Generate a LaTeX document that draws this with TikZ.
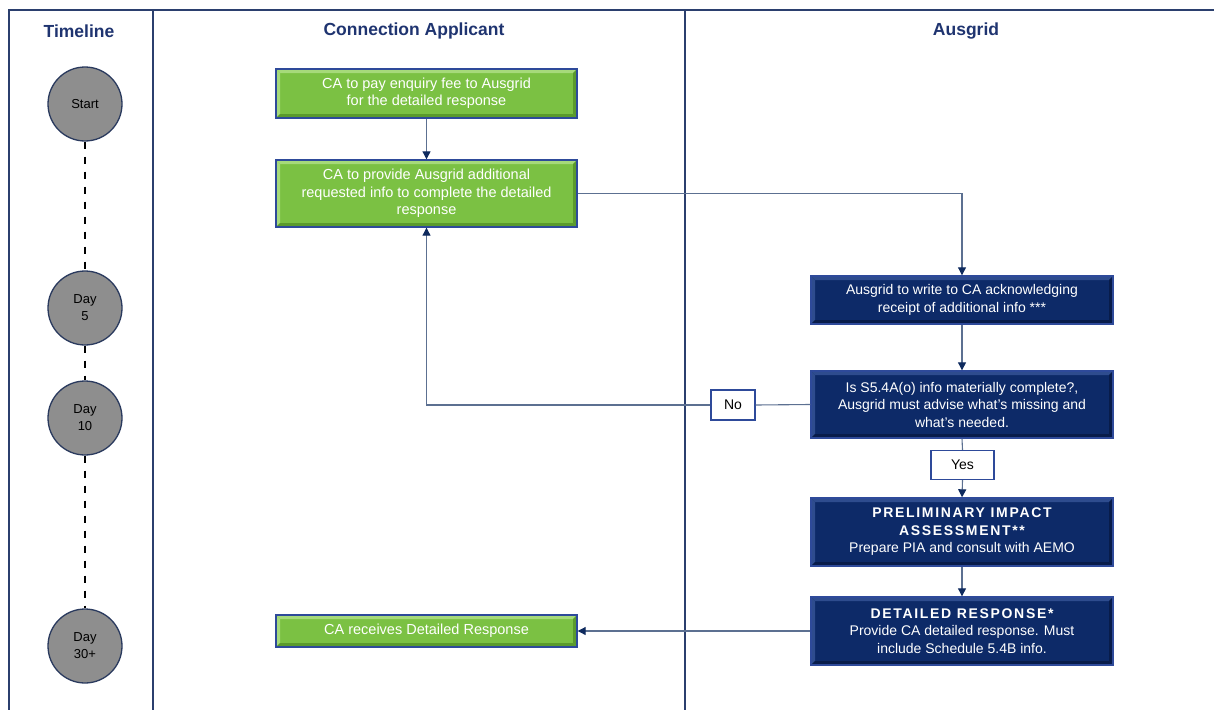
\documentclass[tikz,border=0pt]{standalone}
\usepackage{fontspec}
\setmainfont{Liberation Sans}
\usetikzlibrary{arrows.meta,positioning}
\definecolor{frameblue}{HTML}{2B3F6E}
\definecolor{headblue}{HTML}{1F3470}
\definecolor{gfill}{HTML}{7BC143}
\definecolor{glight}{HTML}{A6DA7A}
\definecolor{gdark}{HTML}{5A9A2C}
\definecolor{bfill}{HTML}{0D2A68}
\definecolor{blight}{HTML}{2E4C8E}
\definecolor{bdark}{HTML}{081C4A}
\definecolor{boxedge}{HTML}{2E4A9A}
\definecolor{connc}{HTML}{5C7091}
\definecolor{tipc}{HTML}{0E2A5E}
\definecolor{circfill}{HTML}{8E8E8E}
\definecolor{circedge}{HTML}{2A3A5E}
\tikzset{
  x=1pt,y=-1pt,
  bevel/.style 2 args={path picture={
    \fill[#1] (path picture bounding box.north west) -- (path picture bounding box.north east)
      -- ([shift={(-4pt,-4pt)}]path picture bounding box.north east) -- ([shift={(4pt,-4pt)}]path picture bounding box.north west) -- cycle;
    \fill[#1] (path picture bounding box.north west) -- (path picture bounding box.south west)
      -- ([shift={(4pt,4pt)}]path picture bounding box.south west) -- ([shift={(4pt,-4pt)}]path picture bounding box.north west) -- cycle;
    \fill[#2] (path picture bounding box.south west) -- (path picture bounding box.south east)
      -- ([shift={(-4pt,4pt)}]path picture bounding box.south east) -- ([shift={(4pt,4pt)}]path picture bounding box.south west) -- cycle;
    \fill[#2] (path picture bounding box.north east) -- (path picture bounding box.south east)
      -- ([shift={(-4pt,4pt)}]path picture bounding box.south east) -- ([shift={(-4pt,-4pt)}]path picture bounding box.north east) -- cycle;
  }},
  gbox/.style={draw=boxedge,line width=1.4pt,fill=gfill,bevel={glight}{gdark},text=white,
    font=\fontsize{14.5}{17.5}\selectfont,align=center,inner sep=2pt},
  bbox/.style={draw=boxedge,line width=1.4pt,fill=bfill,bevel={blight}{bdark},text=white,
    font=\fontsize{14}{17.5}\selectfont,align=center,inner sep=2pt},
  lbl/.style={draw=boxedge,line width=1.2pt,fill=white,text=black,font=\fontsize{14}{17}\selectfont,inner sep=0pt},
  tcirc/.style={circle,draw=circedge,line width=1.3pt,fill=circfill,minimum size=74pt,inner sep=0pt,
    align=center,font=\fontsize{13}{17}\selectfont},
  head/.style={text=headblue,font=\fontsize{17.5}{20}\selectfont\bfseries},
  conn/.style={draw=connc,line width=1.1pt},
  arr/.style={conn,-{Triangle[length=8pt,width=8pt,color=tipc]}},
  tdash/.style={draw=black,line width=2.2pt,dash pattern=on 7pt off 8pt},
  frameline/.style={draw=frameblue,line width=1.5pt}
}
\newcommand{\spacedhead}[1]{{\fontsize{14}{17.5}\selectfont\bfseries\addfontfeature{LetterSpace=12}#1}}
\begin{document}
\begin{tikzpicture}
\useasboundingbox (0,0) rectangle (1214,709);
\fill[white] (0,0) rectangle (1214,709);
% frame
\draw[frameline] (9,715) -- (9,10) -- (1220,10);
\draw[frameline] (153,10) -- (153,715);
\draw[frameline] (685,10) -- (685,715);
% headers
\node[head] (hT) at (79,31) {Timeline};
\node[head] (hC) at (414,31) {Connection Applicant};
\node[head] (hA) at (966,31) {Ausgrid};
% timeline
\node[tcirc] (c0) at (85,104) {Start};
\node[tcirc] (c1) at (85,308) {Day\\5};
\node[tcirc] (c2) at (85,418) {Day\\10};
\node[tcirc] (c3) at (85,646) {Day\\30+};
\draw[tdash] (c0.south) -- (c1.north);
\draw[tdash] (c1.south) -- (c2.north);
\draw[tdash] (c2.south) -- (c3.north);
% CA boxes
\node[gbox,minimum width=301pt,minimum height=49pt] (b1) at (426.5,93.5)
  {CA to pay enquiry fee to Ausgrid\\for the detailed response};
\node[gbox,minimum width=301pt,minimum height=67pt] (b2) at (426.5,193.5)
  {CA to provide Ausgrid additional\\requested info to complete the detailed\\response};
\node[gbox,minimum width=301pt,minimum height=32pt] (b3) at (426.5,631)
  {CA receives Detailed Response};
% Ausgrid boxes
\node[bbox,minimum width=302pt,minimum height=48pt] (a1) at (962,300)
  {Ausgrid to write to CA acknowledging\\receipt of additional info ***};
\node[bbox,minimum width=302pt,minimum height=67pt] (a2) at (962,404.5)
  {Is S5.4A(o) info materially complete?,\\Ausgrid must advise what’s missing and\\what’s needed.};
\node[lbl,minimum width=63pt,minimum height=29pt] (yes) at (962.5,465) {Yes};
\node[lbl,minimum width=44pt,minimum height=30pt] (no) at (733,405) {No};
\node[bbox,minimum width=302pt,minimum height=68pt] (a3) at (962,532)
  {\spacedhead{PRELIMINARY IMPACT}\\\spacedhead{ASSESSMENT**}\\Prepare PIA and consult with AEMO};
\node[bbox,minimum width=302pt,minimum height=68pt] (a4) at (962,631)
  {\spacedhead{DETAILED RESPONSE*}\\Provide CA detailed response. Must\\include Schedule 5.4B info.};
% connectors
\draw[arr] (b1.south) -- (b2.north);
\draw[arr] (b2.east) -| (a1.north);
\draw[arr] (a1.south) -- (a2.north);
\draw[conn] (a2.west) -- (no.east);
\draw[arr] (no.west) -| (b2.south);
\draw[conn] (a2.south) -- (yes.north);
\draw[arr] (yes.south) -- (a3.north);
\draw[arr] (a3.south) -- (a4.north);
\draw[arr] (a4.west) -- (b3.east);
\end{tikzpicture}
\end{document}
